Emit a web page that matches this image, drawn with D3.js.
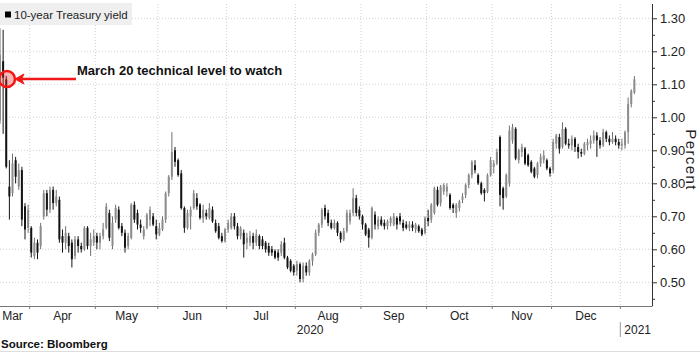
<!DOCTYPE html>
<html lang="en">
<head>
<meta charset="UTF-8">
<title>10-year Treasury yield</title>
<script src="https://cdn.jsdelivr.net/npm/d3@7"></script>
<style>
  body { margin: 0; background: #fff; }
  svg { display: block; font-family: "Liberation Sans", Arial, sans-serif; }
</style>
</head>
<body>
<svg id="chart" width="700" height="352"></svg>
<script>
// bond market trading days, Mar 18 2020 - Jan 8 2021
var months = ["2020-03","2020-04","2020-05","2020-06","2020-07","2020-08","2020-09","2020-10","2020-11","2020-12","2021-01"];
var monthLabels = ["Mar","Apr","May","Jun","Jul","Aug","Sep","Oct","Nov","Dec",""];
var tradingDays = [
  [18,19,20,23,24,25,26,27,30,31],
  [1,2,3,6,7,8,9,13,14,15,16,17,20,21,22,23,24,27,28,29,30],
  [1,4,5,6,7,8,11,12,13,14,15,18,19,20,21,22,26,27,28,29],
  [1,2,3,4,5,8,9,10,11,12,15,16,17,18,19,22,23,24,25,26,29,30],
  [1,2,6,7,8,9,10,13,14,15,16,17,20,21,22,23,24,27,28,29,30,31],
  [3,4,5,6,7,10,11,12,13,14,17,18,19,20,21,24,25,26,27,28,31],
  [1,2,3,4,8,9,10,11,14,15,16,17,18,21,22,23,24,25,28,29,30],
  [1,2,5,6,7,8,9,13,14,15,16,19,20,21,22,23,26,27,28,29,30],
  [2,3,4,5,6,9,10,12,13,16,17,18,19,20,23,24,25,27,30],
  [1,2,3,4,7,8,9,10,11,14,15,16,17,18,21,22,23,24,28,29,30,31],
  [4,5,6,7,8]
];

// daily candles, percent (one row per month)
var open = [
  0.99,1.17,1.115,0.79,0.77,0.87,0.79,0.84,0.73,0.665,
  0.665,0.58,0.62,0.61,0.70,0.77,0.72,0.78,0.74,0.75,0.64,0.62,0.64,0.62,0.58,0.63,0.61,0.60,0.665,0.61,0.62,
  0.64,0.62,0.64,0.665,0.71,0.61,0.69,0.72,0.67,0.65,0.61,0.635,0.735,0.71,0.675,0.64,0.665,0.69,0.70,0.67,
  0.645,0.66,0.69,0.77,0.82,0.90,0.87,0.83,0.725,0.665,0.70,0.725,0.755,0.735,0.695,0.71,0.695,0.72,0.68,0.67,0.64,0.625,
  0.66,0.665,0.70,0.67,0.64,0.65,0.62,0.62,0.64,0.62,0.64,0.63,0.62,0.61,0.60,0.595,0.59,0.59,0.62,0.575,0.565,0.55,
  0.535,0.555,0.51,0.55,0.53,0.565,0.585,0.65,0.675,0.725,0.71,0.68,0.665,0.68,0.65,0.63,0.655,0.685,0.71,0.755,0.72,
  0.70,0.675,0.66,0.635,0.705,0.67,0.69,0.68,0.67,0.68,0.675,0.695,0.70,0.68,0.675,0.665,0.675,0.66,0.67,0.66,0.65,
  0.695,0.69,0.71,0.78,0.74,0.775,0.775,0.765,0.735,0.71,0.725,0.75,0.765,0.795,0.825,0.855,0.825,0.80,0.78,0.775,0.825,
  0.85,0.86,0.94,0.785,0.76,0.80,0.93,0.965,0.87,0.895,0.905,0.885,0.865,0.845,0.825,0.86,0.87,0.87,0.845,
  0.84,0.92,0.94,0.91,0.965,0.92,0.915,0.935,0.91,0.895,0.89,0.915,0.92,0.93,0.945,0.93,0.915,0.955,0.935,0.925,0.935,0.925,
  0.915,0.915,0.955,1.04,1.075
];
var high = [
  1.27,1.265,1.125,0.87,0.89,0.88,0.86,0.85,0.74,0.735,
  0.67,0.635,0.63,0.68,0.78,0.78,0.79,0.79,0.78,0.76,0.66,0.67,0.65,0.63,0.64,0.64,0.62,0.67,0.67,0.65,0.66,
  0.65,0.65,0.68,0.74,0.72,0.70,0.735,0.73,0.68,0.66,0.65,0.74,0.745,0.72,0.69,0.67,0.71,0.73,0.71,0.69,
  0.68,0.70,0.775,0.825,0.955,0.91,0.875,0.84,0.73,0.72,0.73,0.78,0.77,0.74,0.735,0.72,0.74,0.73,0.69,0.68,0.65,0.665,
  0.69,0.71,0.71,0.68,0.67,0.66,0.65,0.655,0.65,0.66,0.645,0.64,0.625,0.62,0.61,0.60,0.60,0.625,0.635,0.58,0.57,0.555,
  0.565,0.56,0.56,0.56,0.57,0.59,0.66,0.68,0.725,0.735,0.72,0.69,0.69,0.685,0.655,0.665,0.72,0.72,0.785,0.765,0.73,
  0.705,0.68,0.665,0.73,0.715,0.70,0.70,0.69,0.69,0.70,0.71,0.70,0.71,0.69,0.685,0.685,0.685,0.68,0.675,0.665,0.70,
  0.72,0.74,0.79,0.79,0.795,0.80,0.80,0.77,0.74,0.74,0.75,0.77,0.80,0.83,0.87,0.87,0.83,0.805,0.785,0.83,0.88,
  0.87,0.905,0.945,0.79,0.83,0.975,0.98,0.97,0.905,0.92,0.91,0.89,0.87,0.85,0.865,0.89,0.90,0.875,0.85,
  0.935,0.95,0.95,0.985,0.97,0.935,0.945,0.94,0.92,0.905,0.925,0.935,0.945,0.96,0.955,0.94,0.965,0.96,0.945,0.955,0.945,0.935,
  0.935,0.96,1.06,1.085,1.125
];
var low = [
  0.98,0.95,0.845,0.69,0.76,0.80,0.78,0.67,0.63,0.65,
  0.575,0.57,0.57,0.60,0.69,0.70,0.71,0.72,0.73,0.62,0.59,0.60,0.59,0.545,0.57,0.59,0.59,0.595,0.60,0.58,0.61,
  0.60,0.60,0.63,0.66,0.625,0.60,0.68,0.66,0.64,0.59,0.60,0.63,0.68,0.66,0.65,0.63,0.66,0.67,0.67,0.63,
  0.64,0.655,0.68,0.76,0.81,0.85,0.82,0.72,0.65,0.66,0.66,0.72,0.72,0.69,0.68,0.69,0.69,0.68,0.65,0.63,0.62,0.62,
  0.65,0.66,0.66,0.63,0.63,0.575,0.60,0.61,0.60,0.61,0.60,0.60,0.59,0.58,0.58,0.57,0.565,0.58,0.57,0.54,0.53,0.52,
  0.52,0.50,0.50,0.52,0.52,0.55,0.58,0.64,0.665,0.69,0.67,0.66,0.66,0.64,0.62,0.625,0.65,0.675,0.70,0.70,0.69,
  0.66,0.64,0.605,0.63,0.66,0.66,0.67,0.66,0.66,0.67,0.67,0.66,0.675,0.655,0.66,0.655,0.655,0.65,0.65,0.64,0.645,
  0.67,0.68,0.705,0.73,0.73,0.765,0.76,0.72,0.71,0.695,0.715,0.74,0.755,0.785,0.815,0.83,0.795,0.765,0.745,0.77,0.82,
  0.83,0.855,0.73,0.72,0.755,0.79,0.92,0.87,0.86,0.88,0.855,0.85,0.83,0.815,0.815,0.85,0.86,0.84,0.82,
  0.83,0.905,0.89,0.905,0.915,0.905,0.90,0.895,0.875,0.88,0.885,0.90,0.905,0.92,0.88,0.905,0.91,0.925,0.915,0.92,0.915,0.905,
  0.90,0.905,0.92,1.03,1.07
];
var close = [
  1.19,1.12,0.85,0.76,0.86,0.82,0.84,0.69,0.66,0.72,
  0.59,0.62,0.59,0.67,0.77,0.72,0.78,0.74,0.76,0.63,0.62,0.65,0.61,0.57,0.63,0.61,0.60,0.665,0.61,0.63,0.64,
  0.62,0.64,0.66,0.73,0.635,0.68,0.725,0.665,0.65,0.605,0.64,0.735,0.69,0.675,0.665,0.66,0.705,0.72,0.675,0.645,
  0.665,0.69,0.77,0.82,0.895,0.865,0.825,0.725,0.665,0.71,0.72,0.77,0.73,0.695,0.72,0.70,0.725,0.685,0.655,0.635,0.625,0.66,
  0.68,0.70,0.67,0.64,0.665,0.615,0.635,0.64,0.62,0.645,0.61,0.61,0.60,0.59,0.59,0.575,0.575,0.615,0.575,0.545,0.535,0.53,
  0.555,0.51,0.55,0.53,0.565,0.585,0.65,0.675,0.72,0.70,0.68,0.665,0.68,0.65,0.63,0.655,0.71,0.71,0.755,0.71,0.70,
  0.675,0.645,0.635,0.725,0.675,0.69,0.675,0.67,0.685,0.695,0.70,0.675,0.685,0.665,0.665,0.675,0.665,0.675,0.655,0.645,0.695,
  0.685,0.735,0.785,0.735,0.79,0.795,0.79,0.725,0.725,0.735,0.745,0.76,0.795,0.825,0.865,0.84,0.80,0.77,0.77,0.825,0.87,
  0.86,0.895,0.765,0.755,0.825,0.96,0.97,0.875,0.90,0.91,0.86,0.855,0.835,0.82,0.86,0.88,0.885,0.845,0.83,
  0.925,0.945,0.905,0.965,0.92,0.915,0.935,0.91,0.895,0.89,0.92,0.925,0.93,0.945,0.93,0.915,0.955,0.935,0.925,0.935,0.925,0.915,
  0.92,0.955,1.04,1.08,1.115
];

var yTicks = [0.5,0.6,0.7,0.8,0.9,1.0,1.1,1.2,1.3];
var yMinor = [0.45,0.55,0.65,0.75,0.85,0.95,1.05,1.15,1.25];

var svg = d3.select("#chart");
var W = 700, H = 352;
var plotL = 0, plotR = 652, plotT = 4, plotB = 306;

// flatten trading days and remember where each month starts
var dates = [], monthStart = [];
tradingDays.forEach(function(list, m) {
  monthStart.push(dates.length);
  list.forEach(function(d) { dates.push(months[m] + "-" + (d < 10 ? "0" + d : d)); });
});

var candles = dates.map(function(d, i) {
  return {i: i, date: d, o: open[i], h: high[i], l: low[i], c: close[i]};
});

var xScale = d3.scaleLinear().domain([0, 208.64]).range([plotL, plotR]);
var yScale = d3.scaleLinear().domain([0.5, 1.3]).range([282.3, 18.3]);

svg.append("rect").attr("width", W).attr("height", H).attr("fill", "#fff");

svg.append("defs").append("clipPath").attr("id", "plotClip")
  .append("rect").attr("x", plotL).attr("y", plotT)
  .attr("width", plotR - plotL).attr("height", plotB - plotT);

// month boundaries
var bounds = monthStart.map(function(s) { return xScale(s - 0.5); });

// grid
var grid = svg.append("g").attr("stroke", "#d0d0d0").attr("stroke-dasharray", "1,2");
grid.selectAll("line.h").data(yTicks).enter().append("line")
  .attr("x1", plotL).attr("x2", plotR)
  .attr("y1", d => yScale(d)).attr("y2", d => yScale(d));
grid.selectAll("line.v").data(bounds.slice(1)).enter().append("line")
  .attr("x1", d => d).attr("x2", d => d)
  .attr("y1", plotT).attr("y2", plotB);

// legend
svg.append("rect").attr("x", 0).attr("y", 3).attr("width", 132).attr("height", 22).attr("fill", "#efefef");
svg.append("rect").attr("x", 5).attr("y", 11.5).attr("width", 6).attr("height", 6).attr("fill", "#000");
svg.append("text").attr("x", 14).attr("y", 19).attr("font-size", 11.5).attr("fill", "#222")
  .text("10-year Treasury yield");

// candles
var upColor = "#8c8c8c", downColor = "#141414";
var cg = svg.append("g").attr("clip-path", "url(#plotClip)");
cg.selectAll("line.wick").data(candles).enter().append("line")
  .attr("x1", d => xScale(d.i)).attr("x2", d => xScale(d.i))
  .attr("y1", d => yScale(d.h)).attr("y2", d => yScale(d.l))
  .attr("stroke", d => d.c >= d.o ? "#707070" : downColor)
  .attr("stroke-width", 1);
cg.selectAll("rect.body").data(candles).enter().append("rect")
  .attr("x", d => xScale(d.i) - 1).attr("width", 2)
  .attr("y", d => yScale(Math.max(d.o, d.c)))
  .attr("height", d => Math.max(1, Math.abs(yScale(d.o) - yScale(d.c))))
  .attr("fill", d => d.c >= d.o ? upColor : downColor);

// right axis
var yAxis = d3.axisRight(yScale).tickValues(yTicks).tickSize(5).tickPadding(3)
  .tickFormat(d3.format(".2f"));
var ya = svg.append("g").attr("transform", "translate(" + plotR + ",0)").call(yAxis);
ya.select(".domain").remove();
ya.selectAll("line").attr("stroke", "#333");
ya.selectAll("text").attr("font-size", 13).attr("fill", "#222")
  .attr("font-family", "Liberation Sans, Arial, sans-serif");
var ym = svg.append("g").attr("transform", "translate(" + plotR + ",0)")
  .call(d3.axisRight(yScale).tickValues(yMinor).tickSize(3).tickFormat(""));
ym.select(".domain").remove();
ym.selectAll("line").attr("stroke", "#333");
svg.append("line").attr("x1", plotR + 0.5).attr("x2", plotR + 0.5)
  .attr("y1", plotT).attr("y2", plotB).attr("stroke", "#333");

svg.append("text").attr("transform", "translate(686,160) rotate(90)")
  .attr("text-anchor", "middle").attr("font-size", 15).attr("fill", "#222")
  .attr("letter-spacing", 1.4).text("Percent");

// bottom axis
svg.append("line").attr("x1", plotL).attr("x2", plotR + 0.5)
  .attr("y1", plotB + 0.5).attr("y2", plotB + 0.5).attr("stroke", "#777");
svg.selectAll("line.xtick").data(bounds.slice(1)).enter().append("line")
  .attr("x1", d => d).attr("x2", d => d)
  .attr("y1", plotB).attr("y2", plotB + 3).attr("stroke", "#777");

var labelPos = monthLabels.map(function(t, m) {
  var a = Math.max(plotL, bounds[m]);
  var b = m + 1 < bounds.length ? bounds[m + 1] : plotR;
  return {t: t, x: m === 0 ? 12.5 : (a + b) / 2};
}).filter(d => d.t);
svg.selectAll("text.month").data(labelPos).enter().append("text")
  .attr("x", d => d.x).attr("y", 319.5).attr("text-anchor", "middle")
  .attr("font-size", 12).attr("fill", "#222").text(d => d.t);

var janX = bounds[bounds.length - 1];
svg.append("text").attr("x", janX / 2).attr("y", 334).attr("text-anchor", "middle")
  .attr("font-size", 12).attr("fill", "#222").text("2020");
svg.append("line").attr("x1", janX).attr("x2", janX).attr("y1", 322).attr("y2", 337)
  .attr("stroke", "#999");
svg.append("text").attr("x", janX + 4).attr("y", 334)
  .attr("font-size", 12).attr("fill", "#222").text("2021");

svg.append("text").attr("x", 1).attr("y", 348).attr("font-size", 11.5)
  .attr("font-weight", "bold").attr("fill", "#111").text("Source: Bloomberg");
svg.append("line").attr("x1", 0).attr("x2", W).attr("y1", 351.5).attr("y2", 351.5)
  .attr("stroke", "#ddd");

// annotation
var red = "#f21818";
var ay = 79;
svg.append("circle").attr("cx", 7).attr("cy", ay).attr("r", 8)
  .attr("fill", "rgba(240,40,40,0.35)").attr("stroke", red).attr("stroke-width", 2.5);
svg.append("line").attr("x1", 76).attr("x2", 21).attr("y1", ay).attr("y2", ay)
  .attr("stroke", red).attr("stroke-width", 2.5);
svg.append("path").attr("d", "M15," + ay + "L24," + (ay - 5) + "L21.5," + ay + "L24," + (ay + 5) + "Z")
  .attr("fill", red).attr("stroke", red).attr("stroke-width", 1);
svg.append("text").attr("x", 77).attr("y", 74.5).attr("font-size", 13)
  .attr("font-weight", "bold").attr("fill", "#111").text("March 20 technical level to watch");
</script>
</body>
</html>
